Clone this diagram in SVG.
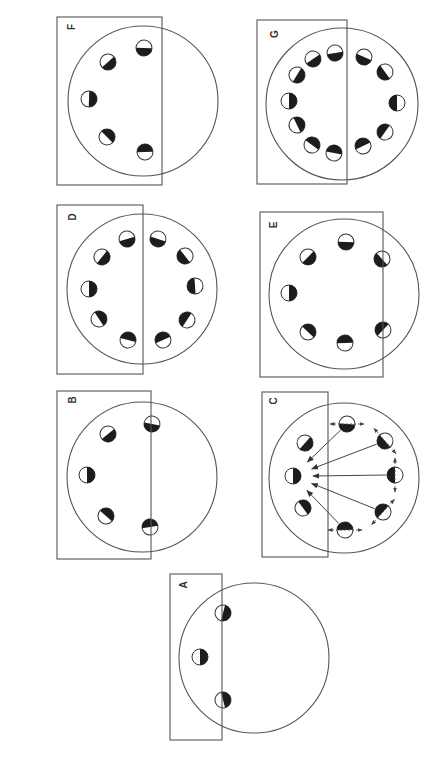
<svg xmlns="http://www.w3.org/2000/svg" xmlns:xlink="http://www.w3.org/1999/xlink" width="436" height="769" viewBox="0 0 436 769">
<style>
.frame{fill:none;stroke:#555;stroke-width:1.1}
.orbit{fill:none;stroke:#555;stroke-width:1.1}
.lbl{font-family:"Liberation Sans",Arial,sans-serif;font-size:10px;font-weight:bold;fill:#333;text-anchor:middle;dominant-baseline:central}
.arrow{stroke:#444;stroke-width:1;fill:none;marker-end:url(#ah)}
.motion{stroke:#555;stroke-width:0.9;fill:none;stroke-dasharray:2 2;marker-start:url(#sh);marker-end:url(#sh)}
</style>
<defs>
<marker id="ah" viewBox="0 0 10 10" refX="9" refY="5" markerWidth="7" markerHeight="7" orient="auto" markerUnits="userSpaceOnUse"><path d="M0,1 L10,5 L0,9 Z" fill="#333"/></marker>
<marker id="sh" viewBox="0 0 10 10" refX="9" refY="5" markerWidth="5" markerHeight="5" orient="auto-start-reverse" markerUnits="userSpaceOnUse"><path d="M0,1 L10,5 L0,9 Z" fill="#444"/></marker>
<g id="moon"><circle r="8" fill="#fff" stroke="#333" stroke-width="1"/><path d="M0,-8 A8,8 0 0 1 0,8 Z" fill="#1c1c1c"/></g>
</defs>
<rect width="436" height="769" fill="#fff"/>

<g id="panel-F">
<circle class="orbit" cx="143" cy="101" r="75"/>
<use xlink:href="#moon" transform="translate(144,48) rotate(91)"/>
<use xlink:href="#moon" transform="translate(108,62) rotate(48)"/>
<use xlink:href="#moon" transform="translate(89,99) rotate(2)"/>
<use xlink:href="#moon" transform="translate(107,137) rotate(-45)"/>
<use xlink:href="#moon" transform="translate(145,152) rotate(-92)"/>
<rect class="frame" x="57" y="17" width="105" height="168"/>
<text class="lbl" transform="translate(71,27) rotate(-90)">F</text>
</g>

<g id="panel-G">
<circle class="orbit" cx="342" cy="104" r="76"/>
<use xlink:href="#moon" transform="translate(335,53) rotate(81)"/>
<use xlink:href="#moon" transform="translate(313,59) rotate(56)"/>
<use xlink:href="#moon" transform="translate(297,75) rotate(31)"/>
<use xlink:href="#moon" transform="translate(289,101) rotate(0)"/>
<use xlink:href="#moon" transform="translate(297,125) rotate(-26)"/>
<use xlink:href="#moon" transform="translate(312,145) rotate(-54)"/>
<use xlink:href="#moon" transform="translate(334,153) rotate(-80)"/>
<use xlink:href="#moon" transform="translate(363,146) rotate(-115)"/>
<use xlink:href="#moon" transform="translate(385,132) rotate(-145)"/>
<use xlink:href="#moon" transform="translate(397,103) rotate(180)"/>
<use xlink:href="#moon" transform="translate(385,72) rotate(144)"/>
<use xlink:href="#moon" transform="translate(364,57) rotate(114)"/>
<rect class="frame" x="257" y="20" width="90" height="164"/>
<text class="lbl" transform="translate(274,34) rotate(-90)">G</text>
</g>

<g id="panel-D">
<circle class="orbit" cx="142" cy="289" r="75"/>
<use xlink:href="#moon" transform="translate(127,239) rotate(73)"/>
<use xlink:href="#moon" transform="translate(158,239) rotate(108)"/>
<use xlink:href="#moon" transform="translate(102,257) rotate(39)"/>
<use xlink:href="#moon" transform="translate(185,256) rotate(142)"/>
<use xlink:href="#moon" transform="translate(89,289) rotate(0)"/>
<use xlink:href="#moon" transform="translate(195,286) rotate(176)"/>
<use xlink:href="#moon" transform="translate(99,319) rotate(-34)"/>
<use xlink:href="#moon" transform="translate(187,320) rotate(-146)"/>
<use xlink:href="#moon" transform="translate(128,340) rotate(-75)"/>
<use xlink:href="#moon" transform="translate(163,340) rotate(-113)"/>
<rect class="frame" x="57" y="205" width="86" height="169"/>
<text class="lbl" transform="translate(72,217) rotate(-90)">D</text>
</g>

<g id="panel-E">
<circle class="orbit" cx="344" cy="294" r="75"/>
<use xlink:href="#moon" transform="translate(346,242) rotate(92)"/>
<use xlink:href="#moon" transform="translate(308,257) rotate(45)"/>
<use xlink:href="#moon" transform="translate(382,259) rotate(138)"/>
<use xlink:href="#moon" transform="translate(289,293) rotate(0)"/>
<use xlink:href="#moon" transform="translate(383,330) rotate(-137)"/>
<use xlink:href="#moon" transform="translate(308,332) rotate(-47)"/>
<use xlink:href="#moon" transform="translate(345,343) rotate(-91)"/>
<rect class="frame" x="260" y="212" width="123" height="165"/>
<text class="lbl" transform="translate(273,225) rotate(-90)">E</text>
</g>

<g id="panel-B">
<circle class="orbit" cx="142" cy="477" r="75"/>
<use xlink:href="#moon" transform="translate(152,424) rotate(101)"/>
<use xlink:href="#moon" transform="translate(108,434) rotate(51)"/>
<use xlink:href="#moon" transform="translate(87,475) rotate(0)"/>
<use xlink:href="#moon" transform="translate(106,516) rotate(-48)"/>
<use xlink:href="#moon" transform="translate(150,527) rotate(-99)"/>
<rect class="frame" x="57" y="391" width="94" height="168"/>
<text class="lbl" transform="translate(72,400) rotate(-90)">B</text>
</g>

<g id="panel-C">
<circle class="orbit" cx="344" cy="478" r="75"/>
<use xlink:href="#moon" transform="translate(347,424) rotate(93)"/>
<use xlink:href="#moon" transform="translate(385,441) rotate(139)"/>
<use xlink:href="#moon" transform="translate(395,475) rotate(180)"/>
<use xlink:href="#moon" transform="translate(383,512) rotate(-138)"/>
<use xlink:href="#moon" transform="translate(345,530) rotate(-91)"/>
<use xlink:href="#moon" transform="translate(305,443) rotate(41)"/>
<use xlink:href="#moon" transform="translate(293,476) rotate(0)"/>
<use xlink:href="#moon" transform="translate(303,508) rotate(-37)"/>
<rect class="frame" x="262" y="392" width="66" height="165"/>
<text class="lbl" transform="translate(273,401) rotate(-90)">C</text>
</g>

<g id="panel-A">
<circle class="orbit" cx="254" cy="658" r="75"/>
<use xlink:href="#moon" transform="translate(223,613) rotate(15)"/>
<use xlink:href="#moon" transform="translate(200,657) rotate(0)"/>
<use xlink:href="#moon" transform="translate(223,700) rotate(-15)"/>
<rect class="frame" x="170" y="574" width="52" height="166"/>
<text class="lbl" transform="translate(183,585) rotate(-90)">A</text>
</g>

<g id="connectors">
<line class="arrow" x1="340.5" y1="430.2" x2="307.4" y2="462.1"/>
<line class="arrow" x1="376.6" y1="444.2" x2="311.7" y2="468.9"/>
<line class="arrow" x1="386" y1="475" x2="313" y2="476"/>
<line class="arrow" x1="374.6" y1="508.7" x2="311.6" y2="483.4"/>
<line class="arrow" x1="338.8" y1="523.5" x2="306.9" y2="490.4"/>
<line class="motion" x1="330" y1="424" x2="364" y2="424"/>
<line class="motion" x1="374" y1="428.3" x2="396" y2="453.7"/>
<line class="motion" x1="395" y1="458" x2="395" y2="492"/>
<line class="motion" x1="394.4" y1="499.3" x2="371.6" y2="524.7"/>
<line class="motion" x1="328" y1="530" x2="362" y2="530"/>
</g>
</svg>
